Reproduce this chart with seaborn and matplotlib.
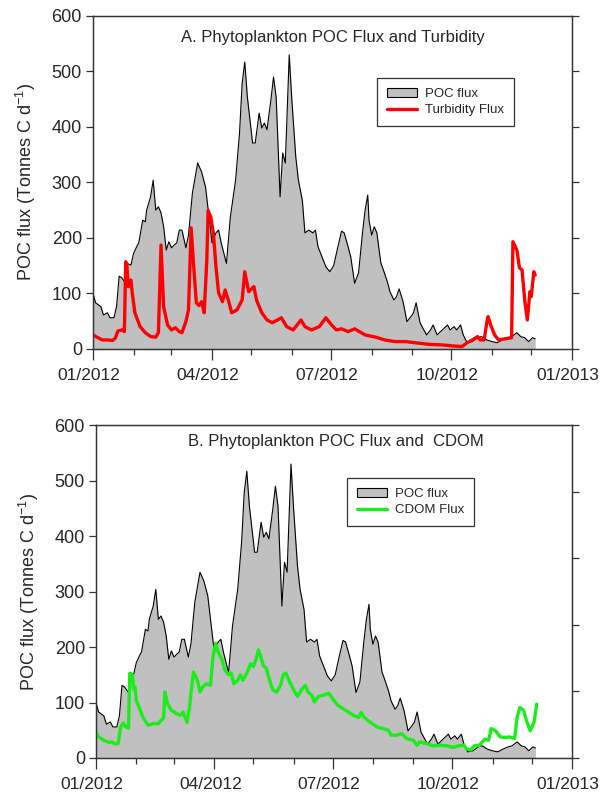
import numpy as np
import pandas as pd
import matplotlib
matplotlib.use("Agg")
import matplotlib.pyplot as plt
import matplotlib.dates as mdates
import matplotlib.transforms as mtransforms
from matplotlib.patches import Patch
from matplotlib.lines import Line2D
import seaborn as sns

# Day of year 2012 (0 = 1 January) and flux values, tonnes C per day
poc_day = [0, 2, 6, 8, 11, 13, 16, 18, 20, 22, 25, 26, 29, 31, 34, 35, 38, 40, 41, 44,
           46, 48, 50, 52, 54, 56, 58, 60, 62, 64, 66, 68, 71, 73, 76, 80, 83, 86, 89, 91,
           94, 96, 98, 102, 105, 109, 112, 114, 116, 118, 122, 124, 127, 129, 131, 133, 136, 138, 140, 143,
           145, 147, 150, 152, 155, 157, 160, 162, 165, 168, 170, 172, 175, 178, 181, 184, 187, 190, 192, 195,
           197, 200, 203, 206, 208, 210, 211, 213, 215, 217, 220, 222, 225, 227, 230, 232, 234, 237, 240, 243,
           245, 247, 250, 252, 255, 258, 260, 263, 267, 271, 273, 276, 278, 281, 283, 286, 290, 294, 297, 301,
           305, 309, 313, 317, 320, 324, 327, 330, 333, 336, 338]
poc_val = [100, 83, 76, 61, 65, 56, 56, 76, 131, 128, 118, 154, 151, 172, 187, 191, 232, 229, 250, 274,
           304, 250, 256, 245, 220, 178, 193, 182, 187, 191, 214, 214, 182, 205, 281, 335, 319, 292, 232, 191,
           209, 214, 191, 154, 238, 304, 389, 478, 517, 454, 371, 371, 425, 398, 407, 395, 449, 490, 454, 274,
           353, 335, 530, 449, 346, 304, 268, 209, 214, 209, 214, 184, 166, 148, 139, 150, 182, 212, 209, 184,
           166, 118, 137, 209, 250, 277, 232, 205, 220, 209, 155, 142, 121, 103, 88, 94, 108, 85, 49, 58,
           65, 83, 47, 38, 25, 34, 43, 25, 34, 43, 34, 40, 34, 43, 25, 11, 13, 20, 22, 16,
           13, 11, 16, 20, 22, 29, 22, 20, 13, 20, 18]

turb_day = [0, 3, 7, 11, 15, 17, 19, 22, 24, 25, 26, 27, 29, 30, 32, 36, 40, 44, 48, 50,
            52, 54, 57, 60, 63, 66, 68, 71, 73, 75, 77, 79, 81, 83, 85, 87, 88, 90, 92, 94,
            96, 99, 101, 104, 106, 110, 114, 116, 119, 123, 125, 129, 133, 137, 141, 144, 148, 153, 159, 162,
            167, 173, 178, 182, 186, 190, 195, 200, 208, 216, 223, 231, 239, 246, 257, 267, 276, 282, 286, 290,
            294, 296, 299, 301, 302, 304, 307, 310, 315, 320, 321, 324, 326, 328, 330, 332, 334, 335, 337, 338]
turb_val = [25, 21, 16, 16, 15, 19, 32, 34, 31, 157, 148, 112, 124, 101, 65, 40, 29, 22, 21, 29,
            187, 76, 43, 34, 38, 31, 29, 49, 70, 218, 148, 83, 78, 85, 65, 160, 249, 238, 209, 148,
            101, 85, 106, 83, 65, 70, 88, 139, 103, 112, 88, 65, 52, 47, 52, 56, 40, 34, 52, 40,
            34, 40, 56, 44, 34, 36, 31, 36, 25, 21, 16, 13, 13, 11, 8, 7, 5, 4, 11, 16,
            22, 16, 16, 47, 58, 43, 25, 16, 18, 20, 193, 178, 146, 142, 88, 52, 103, 94, 139, 133]

cdom_day = [0, 2, 6, 10, 12, 15, 17, 19, 21, 23, 25, 26, 28, 29, 30, 31, 34, 36, 40, 44,
            48, 50, 52, 53, 55, 58, 62, 65, 67, 70, 72, 73, 75, 78, 80, 82, 85, 88, 90, 92,
            94, 97, 99, 102, 104, 106, 109, 111, 113, 116, 119, 121, 123, 125, 127, 129, 131, 133, 136, 139,
            142, 144, 146, 149, 152, 155, 158, 161, 163, 166, 168, 171, 175, 179, 182, 186, 190, 194, 198, 202,
            204, 206, 209, 213, 217, 221, 225, 227, 231, 235, 239, 244, 247, 249, 254, 259, 265, 270, 275, 279,
            283, 285, 288, 291, 295, 299, 302, 304, 307, 311, 315, 318, 322, 324, 326, 329, 331, 334, 337, 339]
cdom_val = [47, 38, 32, 28, 29, 25, 26, 56, 63, 56, 54, 153, 150, 123, 128, 104, 86, 74, 59, 62,
            62, 68, 72, 119, 98, 86, 80, 77, 83, 64, 92, 116, 155, 140, 119, 128, 134, 131, 182, 207,
            191, 177, 159, 150, 153, 134, 140, 150, 140, 153, 170, 165, 177, 195, 180, 165, 162, 144, 123, 119,
            131, 150, 153, 137, 123, 111, 123, 131, 119, 113, 101, 111, 113, 117, 107, 95, 89, 83, 77, 73,
            82, 74, 68, 61, 55, 53, 50, 41, 41, 44, 35, 32, 23, 29, 26, 22, 23, 22, 19, 22,
            23, 17, 14, 22, 23, 34, 32, 53, 50, 38, 37, 38, 35, 74, 91, 86, 68, 49, 65, 97]

y_ticks = [0, 100, 200, 300, 400, 500, 600]
tick_months = ["2012-01-01", "2012-04-01", "2012-07-01", "2012-10-01", "2013-01-01"]

sns.set_style("ticks")
plt.rcParams["font.family"] = ["Liberation Sans", "DejaVu Sans"]
plt.rcParams["mathtext.fontset"] = "custom"
plt.rcParams["mathtext.rm"] = "Liberation Sans"
plt.rcParams["mathtext.it"] = "Liberation Sans:italic"

start = pd.Timestamp("2012-01-01")


def to_dates(days):
    return start + pd.to_timedelta(np.asarray(days, dtype=float), unit="D")


poc_df = pd.DataFrame({"date": to_dates(poc_day), "flux": poc_val})
turb_df = pd.DataFrame({"date": to_dates(turb_day), "flux": turb_val})
cdom_df = pd.DataFrame({"date": to_dates(cdom_day), "flux": cdom_val})

fig = plt.figure(figsize=(6, 8), dpi=100)
ax_a = fig.add_axes([0.155, 0.564, 0.798, 0.416])
ax_b = fig.add_axes([0.160, 0.0525, 0.793, 0.416])

panels = [
    (ax_a, turb_df, "#ff0000", "Turbidity Flux",
     "A. Phytoplankton POC Flux and Turbidity", (0.5, 0.935), (0.593, 0.814), 6),
    (ax_b, cdom_df, "#1aee1a", "CDOM Flux",
     "B. Phytoplankton POC Flux and  CDOM", (0.505, 0.95), (0.527, 0.841), 5),
]

label_shift = mtransforms.ScaledTranslation(-4 / 100, 0, fig.dpi_scale_trans)

for ax, line_df, color, line_name, title, title_pos, leg_pos, right_n in panels:
    ax.fill_between(poc_df["date"], 0, poc_df["flux"], color="#c0c0c0", lw=0, zorder=1)
    sns.lineplot(data=poc_df, x="date", y="flux", ax=ax, color="black", lw=0.8, zorder=2)
    sns.lineplot(data=line_df, x="date", y="flux", ax=ax, color=color, lw=2.4, zorder=3)

    ax.set_xlim(pd.Timestamp("2012-01-01"), pd.Timestamp("2013-01-01"))
    ax.set_ylim(0, 600)
    ax.set_yticks(y_ticks)
    ax.set_xticks(pd.to_datetime(tick_months))
    ax.xaxis.set_major_formatter(mdates.DateFormatter("%m/%Y"))
    ax.xaxis.set_minor_locator(mdates.MonthLocator())
    ax.tick_params(axis="x", which="major", direction="out", length=8, width=0.9,
                   labelsize=12.5, pad=6, color="#333333")
    ax.tick_params(axis="x", which="minor", direction="out", length=4, width=0.9, color="#333333")
    ax.tick_params(axis="y", direction="out", length=5, width=0.9, labelsize=13, pad=3, color="#333333")
    for lbl in ax.get_xticklabels():
        lbl.set_transform(lbl.get_transform() + label_shift)
    ax.set_xlabel("")
    ax.set_ylabel("POC flux (Tonnes C d$^{-1}$)", fontsize=13, labelpad=10)
    for s in ax.spines.values():
        s.set_linewidth(0.9)
        s.set_color("#333333")

    # right-hand axis carries unlabeled ticks only
    rax = ax.twinx()
    rax.set_ylim(0, right_n)
    rax.set_yticks(range(right_n + 1))
    rax.set_yticklabels([])
    rax.tick_params(axis="y", direction="out", length=5, width=0.9, color="#333333")
    for s in rax.spines.values():
        s.set_linewidth(0.9)
        s.set_color("#333333")

    ax.text(title_pos[0], title_pos[1], title, transform=ax.transAxes,
            ha="center", va="center", fontsize=12)

    handles = [Patch(facecolor="#c0c0c0", edgecolor="black", lw=0.8, label="POC flux"),
               Line2D([0], [0], color=color, lw=2.4, label=line_name)]
    leg = ax.legend(handles=handles, loc="upper left", bbox_to_anchor=leg_pos,
                    fontsize=9.5, frameon=True, fancybox=False, framealpha=1,
                    edgecolor="#333333", borderpad=0.75, handlelength=2.3,
                    handletextpad=0.6, labelspacing=0.3, borderaxespad=0)
    leg.get_frame().set_linewidth(0.9)

fig.savefig("out.png", dpi=100)
